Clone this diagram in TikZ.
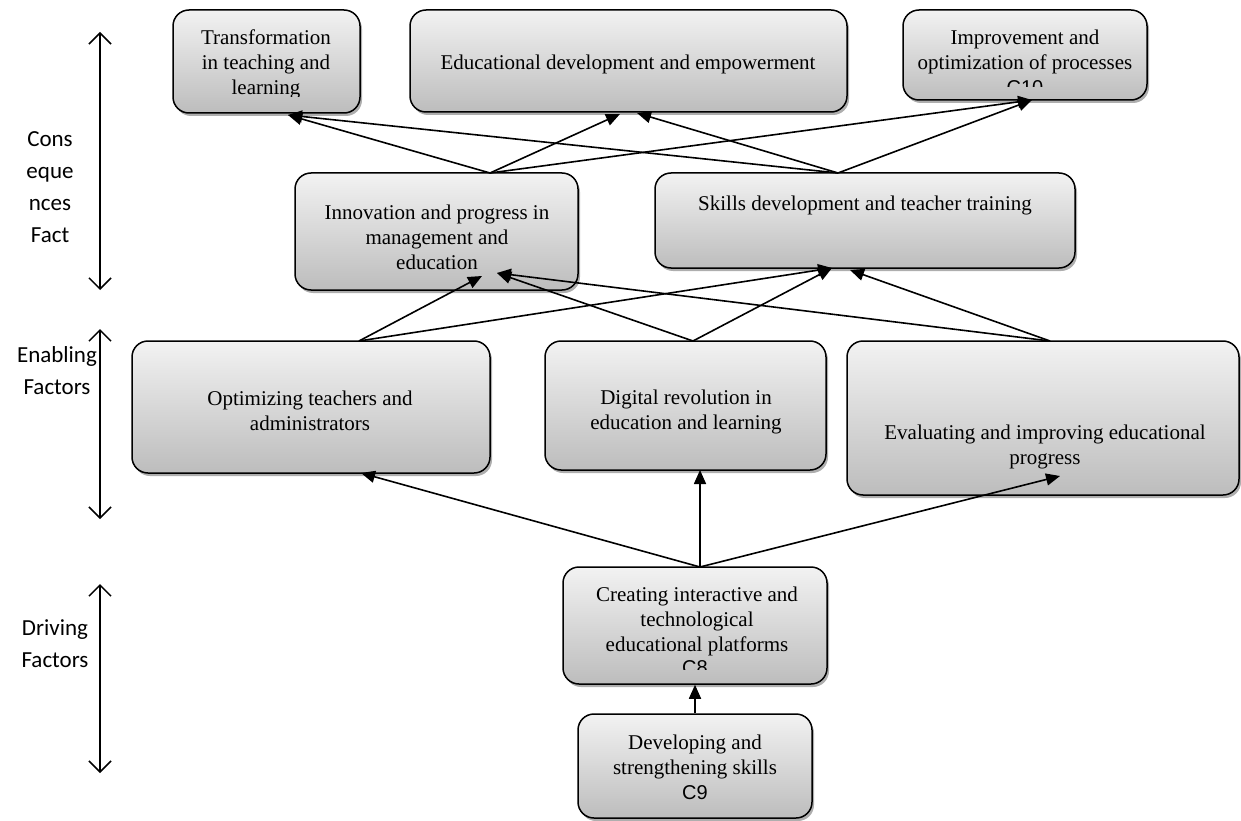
\documentclass[tikz,border=0pt]{standalone}
\usepackage{fontspec}
\setmainfont{Liberation Serif}
\newfontfamily\labelfont{Carlito}
\newfontfamily\arialfont{Liberation Sans}
\usetikzlibrary{arrows.meta,shadows}
\begin{document}
\begin{tikzpicture}[x=1pt,y=-1pt,
  box/.style={draw=black, line width=1.5pt, rounded corners=16pt,
    top color=gray!10, bottom color=gray!52, inner sep=0pt,
    drop shadow={shadow xshift=2pt, shadow yshift=-3pt, fill=black!45, opacity=0.7}},
  txt/.style={font=\fontsize{21}{25}\selectfont, align=center, inner sep=0pt},
  ctxt/.style={font=\arialfont\fontsize{20}{25}\selectfont, inner sep=0pt},
  lbl/.style={font=\labelfont\fontsize{23}{32}\selectfont, align=center, inner sep=0pt},
  conn/.style={line width=1.6pt, -{Triangle[length=14pt,width=12pt]}},
  axis/.style={line width=1.5pt, {Straight Barb[length=11pt,width=22pt]}-{Straight Barb[length=11pt,width=22pt]}}]
\useasboundingbox (0,0) rectangle (1241,821);

% boxes
\node[box, minimum width=187pt, minimum height=103pt] (t1) at (266.5,61.5) {};
\node[box, minimum width=437pt, minimum height=102pt] (t2) at (628.5,61) {};
\node[box, minimum width=244pt, minimum height=90pt] (t3) at (1025,55) {};
\node[box, minimum width=283pt, minimum height=117pt] (m1) at (436.5,231.5) {};
\node[box, minimum width=420pt, minimum height=95pt] (m2) at (865,220.5) {};
\node[box, minimum width=358pt, minimum height=132pt] (e1) at (311,407) {};
\node[box, minimum width=281pt, minimum height=129pt] (e2) at (685.5,405.5) {};
\node[box, minimum width=392pt, minimum height=154pt] (e3) at (1043,418) {};
\node[box, minimum width=264pt, minimum height=117pt] (d1) at (695,625.5) {};
\node[box, minimum width=234pt, minimum height=104pt] (d2) at (695,766) {};

% texts
\begin{scope}
  \clip (170,10) rectangle (365,97);
  \node[txt] (t1t) at (266,64) {Transformation\\in teaching and\\learning};
\end{scope}
\node[txt] (t2t) at (628,64) {Educational development and empowerment};
\node[txt] (t3t) at (1025,52) {Improvement and\\optimization of processes};
\begin{scope}
  \clip (900,70) rectangle (1150,87);
  \node[ctxt, anchor=north] (t3c) at (1025,80) {C10};
\end{scope}
\node[txt] (m1t) at (437,237) {Innovation and progress in\\management and\\education};
\node[txt] (m2t) at (865,205) {Skills development and teacher training};
\node[txt] (e1t) at (310,411) {Optimizing teachers and\\administrators};
\node[txt] (e2t) at (686,412) {Digital revolution in\\education and learning};
\node[txt] (e3t) at (1045,447) {Evaluating and improving educational\\progress};
\node[txt] (d1t) at (697,621) {Creating interactive and\\technological\\educational platforms};
\begin{scope}
  \clip (560,659) rectangle (830,669);
  \node[ctxt, anchor=north] (d1c) at (695,660) {C8};
\end{scope}
\node[txt] (d2t) at (695,767) {Developing and\\strengthening skills\\{\arialfont\fontsize{20}{25}\selectfont C9}};

% side labels and axes
\node[lbl] (l1) at (50,187) {Cons\\eque\\nces\\Fact};
\node[lbl] (l2) at (57,371) {Enabling\\Factors};
\node[lbl] (l3) at (55,644) {Driving\\Factors};
\coordinate (a1t) at (100,32);  \coordinate (a1b) at (100,290);
\coordinate (a2t) at (100,329); \coordinate (a2b) at (100,519);
\coordinate (a3t) at (100,584); \coordinate (a3b) at (100,773);
\draw[axis] (a1t) -- (a1b);
\draw[axis] (a2t) -- (a2b);
\draw[axis] (a3t) -- (a3b);

% connector points
\coordinate (d1top) at (700,567);
\coordinate (e1tip) at (361,473);
\coordinate (e2tip) at (700,470);
\coordinate (e3tip) at (1060,476);
\coordinate (e1top) at (359,341);
\coordinate (e2top) at (693,341);
\coordinate (e3top) at (1050,341);
\coordinate (m1tipa) at (482,276);
\coordinate (m1tipb) at (497,273);
\coordinate (m2tipa) at (832,268);
\coordinate (m2tipb) at (850,270);
\coordinate (m1top) at (490,173);
\coordinate (m2top) at (838,173);
\coordinate (t1tip) at (288,115);
\coordinate (t2tipa) at (620,114);
\coordinate (t2tipb) at (637,113);
\coordinate (t3tip) at (1032,100);

% connectors
\draw[conn] (d2.north) -- (d1.south);
\draw[conn] (d1top) -- (e1tip);
\draw[conn] (d1top) -- (e2tip);
\draw[conn] (d1top) -- (e3tip);
\draw[conn] (e1top) -- (m1tipa);
\draw[conn] (e1top) -- (m2tipa);
\draw[conn] (e2top) -- (m1tipb);
\draw[conn] (e2top) -- (m2tipa);
\draw[conn] (e3top) -- (m1tipb);
\draw[conn] (e3top) -- (m2tipb);
\draw[conn] (m1top) -- (t1tip);
\draw[conn] (m1top) -- (t2tipa);
\draw[conn] (m1top) -- (t3tip);
\draw[conn] (m2top) -- (t1tip);
\draw[conn] (m2top) -- (t2tipb);
\draw[conn] (m2top) -- (t3tip);
\end{tikzpicture}
\end{document}
